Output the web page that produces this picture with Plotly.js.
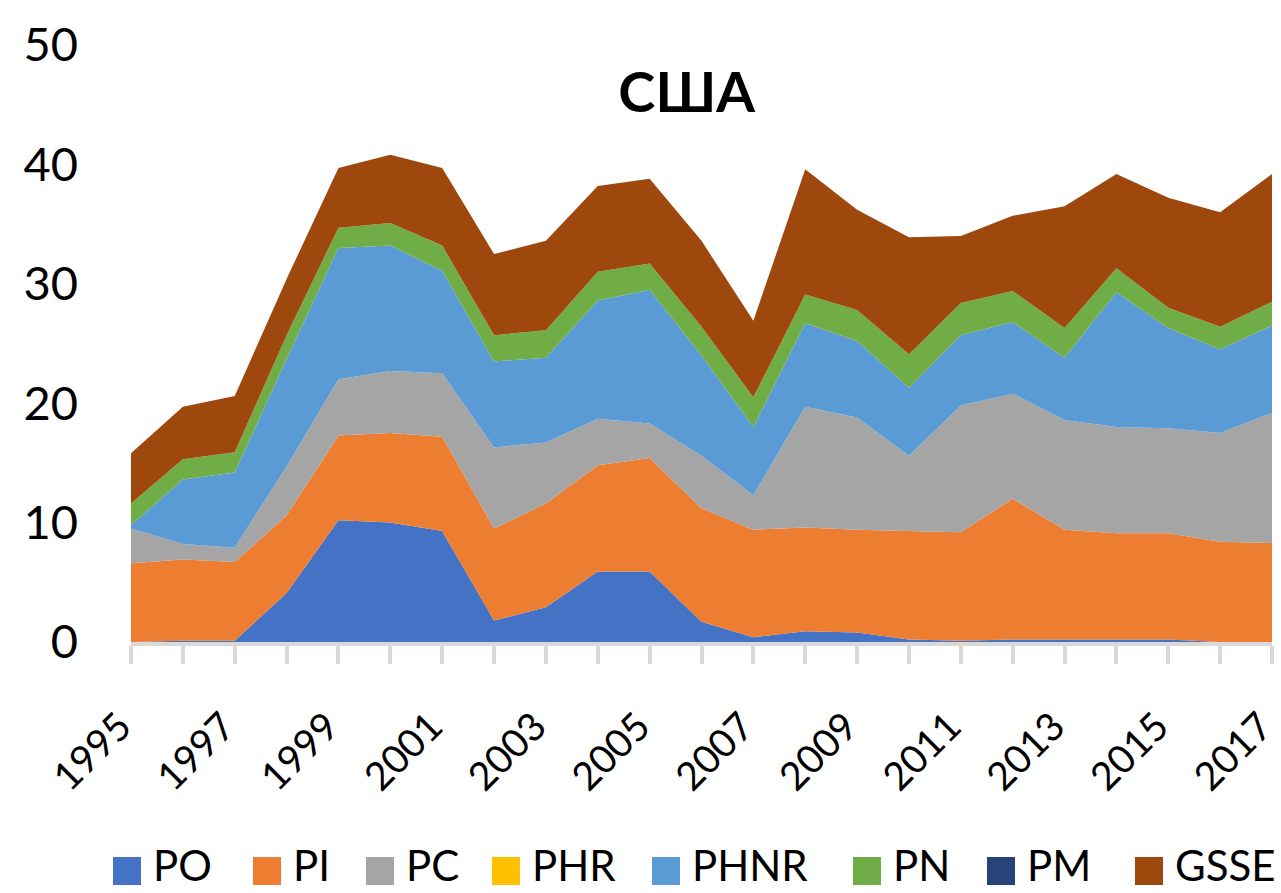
<!DOCTYPE html>
<html>
<head>
<meta charset="utf-8">
<script src="https://cdn.plot.ly/plotly-3.0.1.min.js"></script>
<style>
  html, body { margin: 0; padding: 0; background: #fff; }
  #chart { width: 1281px; height: 893px; }
</style>
</head>
<body>
<div id="chart"></div>
<script>
const years = [1995,1996,1997,1998,1999,2000,2001,2002,2003,2004,2005,2006,2007,2008,2009,2010,2011,2012,2013,2014,2015,2016,2017];
const PO   = [0, 0.1, 0.1, 4.1, 10.2, 10.0, 9.3, 1.8, 2.9, 5.9, 5.9, 1.7, 0.4, 0.9, 0.8, 0.2, 0.1, 0.2, 0.2, 0.2, 0.2, 0, 0];
const PI   = [6.6, 6.8, 6.6, 6.5, 7.1, 7.5, 7.9, 7.7, 8.7, 8.9, 9.5, 9.5, 9.0, 8.7, 8.6, 9.1, 9.1, 11.8, 9.2, 8.9, 8.9, 8.4, 8.3];
const PC   = [2.9, 1.3, 1.2, 4.1, 4.7, 5.2, 5.3, 6.8, 5.1, 3.9, 2.9, 4.4, 2.9, 10.1, 9.4, 6.3, 10.6, 8.8, 9.2, 8.9, 8.8, 9.1, 10.9];
const PHR  = [0, 0, 0, 0, 0, 0, 0, 0, 0, 0, 0, 0, 0, 0, 0, 0, 0, 0, 0, 0, 0, 0, 0];
const PHNR = [0.3, 5.4, 6.3, 9.0, 11.0, 10.5, 8.6, 7.2, 7.1, 9.9, 11.2, 8.4, 5.7, 7.0, 6.4, 5.7, 5.9, 6.0, 5.2, 11.3, 8.4, 7.0, 7.3];
const PN   = [1.8, 1.7, 1.7, 2.0, 1.7, 1.9, 2.1, 2.2, 2.3, 2.4, 2.2, 2.4, 2.5, 2.4, 2.6, 2.8, 2.7, 2.6, 2.5, 2.0, 1.7, 1.9, 2.0];
const PM   = [0, 0, 0, 0, 0, 0, 0, 0, 0, 0, 0, 0, 0, 0, 0, 0, 0, 0, 0, 0, 0, 0, 0];
const GSSE = [4.2, 4.4, 4.7, 4.7, 5.0, 5.7, 6.5, 6.8, 7.5, 7.2, 7.1, 7.2, 6.4, 10.5, 8.4, 9.8, 5.6, 6.3, 10.2, 7.9, 9.2, 9.6, 10.7];

const seriesNames = ['PO','PI','PC','PHR','PHNR','PN','PM','GSSE'];
const seriesData  = [PO, PI, PC, PHR, PHNR, PN, PM, GSSE];
const seriesColors = ['#4472C4','#ED7D31','#A5A5A5','#FFC000','#5B9BD5','#70AD47','#264478','#9E480E'];

const xTickVals = years;
const xTickText = years.map(y => (y % 2 === 1) ? String(y) : '');
const yTickVals = [0, 10, 20, 30, 40, 50];

const FONT = "Lato, 'Noto Sans', sans-serif";

// plot geometry (pixels)
const plotL = 131, plotR = 1272, plotT = 45, plotB = 642;
const plotW = plotR - plotL, plotH = plotB - plotT;
const px2x = p => (p - plotL) / plotW;
const py2y = p => (plotB - p) / plotH;

// legend layout (pixel left edge of each swatch)
const legendLeft = [113, 253, 366, 492, 652, 853, 987, 1135];
const swatch = 28, legendTop = 857, legendTextMid = 865, textGap = 10;

const traces = seriesNames.map((name, i) => ({
  type: 'scatter',
  mode: 'none',
  name: name,
  x: years,
  y: seriesData[i],
  stackgroup: 'one',
  fillcolor: seriesColors[i],
  line: { width: 0, color: seriesColors[i] },
  showlegend: false,
  hoverinfo: 'x+y+name'
}));

const shapes = seriesNames.map((name, i) => ({
  type: 'rect', xref: 'paper', yref: 'paper',
  x0: px2x(legendLeft[i]), x1: px2x(legendLeft[i] + swatch),
  y0: py2y(legendTop + swatch), y1: py2y(legendTop),
  fillcolor: seriesColors[i], line: { width: 0 }
}));

const annotations = seriesNames.map((name, i) => ({
  xref: 'paper', yref: 'paper',
  x: px2x(legendLeft[i] + swatch + textGap), y: py2y(legendTextMid),
  xanchor: 'left', yanchor: 'middle',
  text: name, showarrow: false,
  font: { family: FONT, size: 42, color: '#000000' }
}));

const layout = {
  width: 1281,
  height: 893,
  paper_bgcolor: '#ffffff',
  plot_bgcolor: '#ffffff',
  margin: { l: plotL, r: 1281 - plotR, t: plotT, b: 893 - plotB, autoexpand: false },
  font: { family: FONT, color: '#000000', size: 42 },
  title: {
    text: '<b>США</b>',
    font: { family: FONT, size: 56, color: '#000000' },
    xref: 'container', x: 0.536, xanchor: 'center',
    yref: 'container', y: 0.897, yanchor: 'middle'
  },
  showlegend: false,
  shapes: shapes,
  annotations: annotations,
  xaxis: {
    range: [1995, 2017],
    tickmode: 'array',
    tickvals: xTickVals,
    ticktext: xTickText,
    tickangle: -45,
    tickfont: { family: FONT, size: 39, color: '#000000' },
    ticklabelstandoff: 24,
    ticklabelshift: -11,
    ticklabeloverflow: 'allow',
    automargin: false,
    showgrid: false,
    zeroline: false,
    showline: true,
    linecolor: '#D9D9D9',
    linewidth: 4,
    ticks: 'outside',
    ticklen: 18,
    tickwidth: 4,
    tickcolor: '#D9D9D9'
  },
  yaxis: {
    range: [0, 50],
    tickmode: 'array',
    tickvals: yTickVals,
    tickfont: { family: FONT, size: 47, color: '#000000' },
    automargin: false,
    showgrid: false,
    zeroline: false,
    showline: false,
    ticks: '',
    ticklabelstandoff: 52
  }
};

Plotly.newPlot('chart', traces, layout, { displayModeBar: false, staticPlot: true });
</script>
</body>
</html>
